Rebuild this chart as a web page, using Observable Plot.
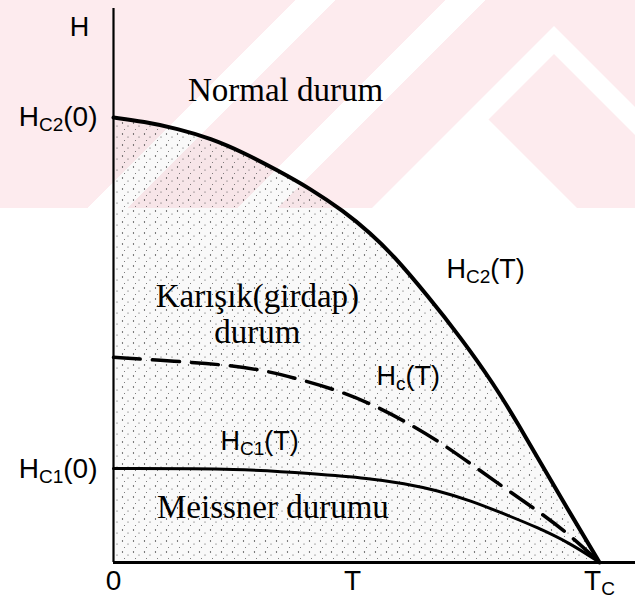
<!DOCTYPE html>
<html>
<head>
<meta charset="utf-8">
<script src="https://cdn.jsdelivr.net/npm/d3@7"></script>
<script src="https://cdn.jsdelivr.net/npm/@observablehq/plot@0.6"></script>
<style>
  html, body { margin: 0; padding: 0; background: #fff; }
  #wrap { position: relative; width: 635px; height: 606px; overflow: hidden; }
  .wm { position: absolute; left: 0; top: 0; width: 635px; height: 208px; }
  #wm1 {
    background-color: #fdebee;
    background-image: linear-gradient(135deg,
      transparent 0 208.6px, #fff 208.6px 236.9px,
      transparent 236.9px 314.7px, #fff 314.7px 343px,
      transparent 343px);
  }
  #wm2 { background: #fff; clip-path: polygon(554px 26px, 635px 107px, 635px 208px, 372px 208px); }
  #wm3 { background: #fdebee; clip-path: polygon(554px 54px, 635px 135px, 635px 208px, 577px 208px, 488.5px 119.5px); }
  #chart { position: absolute; left: 0; top: 0; }
</style>
</head>
<body>
<div id="wrap">
  <div class="wm" id="wm1"></div>
  <div class="wm" id="wm2"></div>
  <div class="wm" id="wm3"></div>
  <div id="chart"></div>
</div>
<script>
// ---- data (T/Tc, H/Hc2(0)) ----
const hc2T = [0, 0.062, 0.132, 0.200, 0.268, 0.338, 0.405, 0.473, 0.529, 0.576, 0.646, 0.714, 0.782, 0.837, 0.872, 0.940, 1];
const hc2H = [1.000, 0.991, 0.975, 0.953, 0.921, 0.881, 0.840, 0.790, 0.740, 0.690, 0.600, 0.506, 0.402, 0.303, 0.236, 0.110, 0];

const hcT = [0, 0.132, 0.220, 0.302, 0.379, 0.461, 0.529, 0.597, 0.667, 0.735, 0.802, 0.872, 0.940, 1];
const hcH = [0.461, 0.452, 0.445, 0.434, 0.413, 0.387, 0.357, 0.319, 0.274, 0.222, 0.169, 0.117, 0.061, 0];

const hc1T = [0, 0.268, 0.405, 0.529, 0.597, 0.667, 0.735, 0.802, 0.872, 0.940, 1];
const hc1H = [0.211, 0.211, 0.200, 0.189, 0.178, 0.162, 0.139, 0.110, 0.079, 0.043, 0];

const regionNames = ["Normal durum", "Karışık(girdap)\ndurum", "Meissner durumu"];
const regionT = [0.354, 0.296, 0.328];
const regionH = [1.038, 0.494, 0.099];

// "main|sub|rest" -> subscripted text
const curveNames = ["H|C2|(T)", "H|c|(T)", "H|C1|(T)"];
const curveT = [0.685, 0.541, 0.220];
const curveH = [0.640, 0.400, 0.252];

const yTicks = [1, 0.211];
const yTickLabels = ["H|C2|(0)", "H|C1|(0)"];
const xTicks = [0, 0.492, 1];
const xTickLabels = ["0", "T", "T|C|"];

const yTitle = ["H"];
const yTitleT = [-0.070];
const yTitleH = [1.184];

const xMax = 1.074;
const yMax = 1.245;

const yMap = new Map(yTicks.map((d, i) => [d, yTickLabels[i]]));
const xMap = new Map(xTicks.map((d, i) => [d, xTickLabels[i]]));

const sans = "'Liberation Sans', Arial, Helvetica, sans-serif";
const serif = "'Liberation Serif', 'Times New Roman', serif";

const svg = Plot.plot({
  width: 635,
  height: 606,
  marginLeft: 113,
  marginRight: 0,
  marginTop: 8,
  marginBottom: 44,
  style: { background: "transparent", color: "black", fontFamily: sans, fontSize: "27px" },
  x: { domain: [0, xMax] },
  y: { domain: [0, yMax] },
  marks: [
    Plot.areaY(hc2T, { x: d => d, y: (d, i) => hc2H[i], curve: "basis", fill: "url(#stipple)" }),
    Plot.ruleX([0], { stroke: "black", strokeWidth: 2.2 }),
    Plot.ruleY([0], { stroke: "black", strokeWidth: 3 }),
    Plot.line(hc2T, { x: d => d, y: (d, i) => hc2H[i], curve: "basis", stroke: "black", strokeWidth: 4 }),
    Plot.line(hcT, { x: d => d, y: (d, i) => hcH[i], curve: "basis", stroke: "black", strokeWidth: 3.5, strokeDasharray: "27,12" }),
    Plot.line(hc1T, { x: d => d, y: (d, i) => hc1H[i], curve: "basis", stroke: "black", strokeWidth: 3 }),
    Plot.axisY(yTicks, { tickFormat: d => yMap.get(d), tickSize: 0, tickPadding: 16, fontSize: 28, label: null }),
    Plot.axisX(xTicks, { tickFormat: d => xMap.get(d), tickSize: 0, tickPadding: 8, fontSize: 28, label: null }),
    Plot.text(yTitle, { x: (d, i) => yTitleT[i], y: (d, i) => yTitleH[i], text: d => d, textAnchor: "middle", lineAnchor: "bottom", fontSize: 27, fill: "black" }),
    Plot.text(regionNames, { x: (d, i) => regionT[i], y: (d, i) => regionH[i], text: d => d, textAnchor: "middle", lineAnchor: "bottom", lineHeight: 1.09, fontFamily: serif, fontSize: 33, fill: "black" }),
    Plot.text(curveNames, { x: (d, i) => curveT[i], y: (d, i) => curveH[i], text: d => d, textAnchor: "start", lineAnchor: "bottom", fontSize: 27, fill: "black" })
  ]
});

document.getElementById("chart").appendChild(svg);

const s = d3.select(svg);
s.insert("defs", ":first-child").html(
  '<pattern id="stipple" patternUnits="userSpaceOnUse" width="11" height="11">' +
  '<rect width="11" height="11" fill="#000" fill-opacity="0.025"/>' +
  '<circle cx="1.5" cy="2" r="0.65" fill="#333"/>' +
  '<circle cx="7" cy="5" r="0.55" fill="#444"/>' +
  '<circle cx="3.5" cy="8.5" r="0.5" fill="#555"/>' +
  '</pattern>'
);

s.selectAll("text").each(function () {
  const t = this.textContent;
  if (!t.includes("|")) return;
  const [a, b, c] = t.split("|");
  const el = d3.select(this);
  el.text(null);
  el.append("tspan").text(a);
  el.append("tspan").attr("dy", 5).attr("font-size", 19).text(b);
  if (c) el.append("tspan").attr("dy", -5).text(c);
});
</script>
</body>
</html>
